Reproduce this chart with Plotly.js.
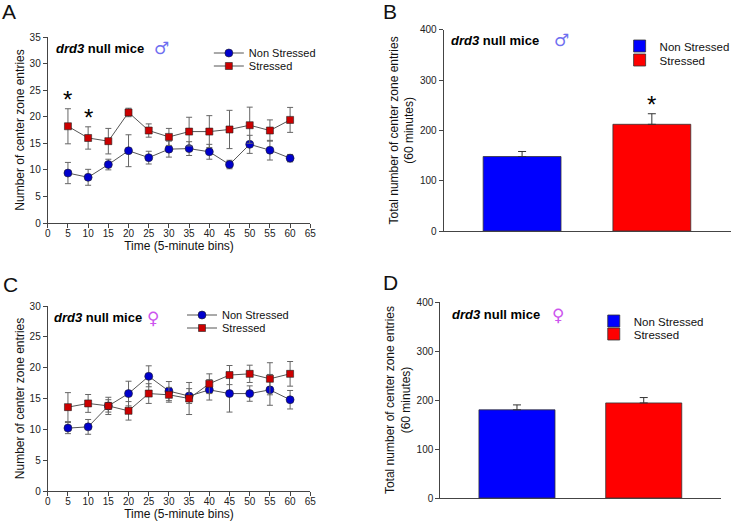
<!DOCTYPE html>
<html><head><meta charset="utf-8">
<script src="https://cdn.plot.ly/plotly-3.0.1.min.js"></script>
<style>html,body{margin:0;padding:0;background:#fff}#chart{width:735px;height:528px}</style>
</head><body><div id="chart"></div>
<script>
// ---- data ----
const timeBins = [5,10,15,20,25,30,35,40,45,50,55,60];
// Panel A (males)
const maleNonStressed    = [9.4, 8.6, 11.0, 13.6, 12.3, 13.9, 14.0, 13.4, 11.0, 14.8, 13.7, 12.2];
const maleNonStressedErr = [2.0, 1.5, 1.0, 3.0, 1.2, 1.5, 1.3, 1.4, 0.8, 1.7, 1.85, 0.7];
const maleStressed       = [18.2, 16.0, 15.4, 20.8, 17.4, 16.2, 17.2, 17.2, 17.6, 18.4, 17.4, 19.4];
const maleStressedErr    = [3.3, 2.1, 2.4, 0.8, 1.25, 1.6, 2.7, 3.0, 3.6, 3.4, 2.0, 2.35];
const maleSigBins = [5, 10];
// Panel C (females)
const femNonStressed     = [10.2, 10.4, 13.8, 15.8, 18.6, 16.2, 15.4, 16.4, 15.8, 15.8, 16.4, 14.8];
const femNonStressedErr  = [0.9, 1.2, 1.0, 2.0, 1.7, 1.55, 1.2, 1.65, 3.0, 1.25, 2.5, 1.5];
const femStressed        = [13.6, 14.2, 13.8, 13.0, 15.8, 15.6, 15.0, 17.4, 18.8, 19.0, 18.2, 19.0];
const femStressedErr     = [2.35, 1.45, 1.4, 1.5, 1.6, 1.2, 2.6, 1.6, 1.55, 1.4, 2.6, 2.0];
// Panels B and D (totals, 60 minutes)
const groups = ["Non Stressed", "Stressed"];
const maleTotals    = [148, 212];
const maleTotalsErr = [10, 21];
const femTotals     = [180, 194];
const femTotalsErr  = [10, 11];

// ---- layout helpers ----
const W = 735, H = 528;
const fx = p => p / W;
const fy = p => 1 - p / H;
const FONT = "Liberation Sans, Arial, sans-serif";
const axisCol = "#444";
const tickFont = {family: FONT, size: 10, color: "#222"};
const titleFont = {family: FONT, size: 12, color: "#111"};

const blue = "#0000cc", red = "#cc0000";
const errStyle = {type: "data", visible: true, color: "#666", thickness: 1, width: 3};

function lineTrace(y, err, name, color, symbol, xa, ya, leg) {
  return {
    x: timeBins, y: y, type: "scatter", mode: "lines+markers", name: name,
    xaxis: xa, yaxis: ya, legend: leg,
    line: {color: "#555", width: 1},
    marker: {color: color, size: symbol === "circle" ? 8 : 7, symbol: symbol, line: {color: "#222", width: 0.6}},
    error_y: Object.assign({array: err}, errStyle)
  };
}
function barTrace(i, vals, errs, color, xa, ya, leg) {
  return {
    x: [groups[i]], y: [vals[i]], type: "bar", name: groups[i], width: 0.6,
    xaxis: xa, yaxis: ya, legend: leg,
    marker: {color: color, line: {color: "#333", width: 0.8}},
    error_y: {type: "data", array: [errs[i]], symmetric: false, arrayminus: [0], color: "#333", thickness: 1, width: 4}
  };
}

const traces = [
  lineTrace(maleNonStressed, maleNonStressedErr, "Non Stressed", blue, "circle", "x", "y", "legend"),
  lineTrace(maleStressed, maleStressedErr, "Stressed", red, "square", "x", "y", "legend2"),
  barTrace(0, maleTotals, maleTotalsErr, "#0000ff", "x2", "y2", "legend3"),
  barTrace(1, maleTotals, maleTotalsErr, "#ff0000", "x2", "y2", "legend4"),
  lineTrace(femNonStressed, femNonStressedErr, "Non Stressed", blue, "circle", "x3", "y3", "legend5"),
  lineTrace(femStressed, femStressedErr, "Stressed", red, "square", "x3", "y3", "legend6"),
  barTrace(0, femTotals, femTotalsErr, "#0000ff", "x4", "y4", "legend7"),
  barTrace(1, femTotals, femTotalsErr, "#ff0000", "x4", "y4", "legend8")
];

function numAxis(domain, range, dtick, anchor, title, standoff, labelShift) {
  return {
    domain: domain, range: range, dtick: dtick, tick0: 0, anchor: anchor,
    showline: true, linecolor: axisCol, linewidth: 1, mirror: false,
    ticks: "outside", ticklen: 4, tickcolor: axisCol, tickwidth: 1,
    showgrid: false, zeroline: false, tickfont: tickFont, ticklabelstandoff: labelShift || 0,
    title: {text: title, font: titleFont, standoff: standoff}, automargin: false
  };
}
function catAxis(domain, anchor) {
  return {
    domain: domain, type: "category", range: [-0.605, 1.61], anchor: anchor,
    showline: true, linecolor: axisCol, linewidth: 1, ticks: "", showticklabels: false,
    showgrid: false, zeroline: false, automargin: false
  };
}

const legendBase = {bgcolor: "rgba(0,0,0,0)", xanchor: "left", yanchor: "middle", itemwidth: 30, tracegroupgap: 0};
const leg = (x, y, size) => Object.assign({x: fx(x), y: fy(y), font: {family: FONT, size: size, color: "#111"}}, legendBase);

const yTitleA = "Number of center zone entries";
const yTitleB = "Total number of center zone entries<br>(60 minutes)";
const xTitle = "Time (5-minute bins)";

const annotations = [];
function label(txt, x, y) {
  annotations.push({text: txt, xref: "paper", yref: "paper", x: fx(x), y: fy(y), xanchor: "left", yanchor: "middle",
    showarrow: false, font: {family: FONT, size: 21, color: "#111"}});
}
label("A", 0, 12); label("B", 383, 11); label("C", 1, 284); label("D", 383, 282);
function heading(x, y, sym, symColor, symX, symY) {
  annotations.push({text: "<b><i>drd3</i> null mice</b>", xref: "paper", yref: "paper", x: fx(x), y: fy(y),
    xanchor: "left", yanchor: "middle", showarrow: false, font: {family: FONT, size: 13, color: "#000"}});
  annotations.push({text: sym, xref: "paper", yref: "paper", x: fx(symX), y: fy(symY),
    xanchor: "left", yanchor: "middle", showarrow: false, font: {family: "DejaVu Sans", size: 17, color: symColor}});
}
heading(54, 48, "♂", "#6f6ff0", 153, 48);
heading(451, 40, "♂", "#6f6ff0", 555, 40);
heading(52, 317, "♀", "#cc55ee", 146, 318);
heading(452, 314, "♀", "#cc55ee", 553, 315);
// significance stars
maleSigBins.forEach(b => {
  const i = timeBins.indexOf(b);
  annotations.push({text: "*", x: b, y: maleStressed[i] + maleStressedErr[i], xref: "x", yref: "y",
    yanchor: "bottom", showarrow: false, yshift: -6, font: {family: FONT, size: 24, color: "#000"}});
});
annotations.push({text: "*", x: groups[1], y: maleTotals[1] + maleTotalsErr[1], xref: "x2", yref: "y2",
  yanchor: "bottom", showarrow: false, yshift: -6, font: {family: FONT, size: 24, color: "#000"}});

const layout = {
  width: W, height: H, margin: {l: 0, r: 0, t: 0, b: 0},
  paper_bgcolor: "#fff", plot_bgcolor: "#fff", showlegend: true,
  xaxis:  numAxis([fx(48), fx(312)], [0, 65], 5, "y", xTitle, 0, -3),
  yaxis:  numAxis([fy(223), fy(37)], [0, 35], 5, "x", yTitleA, 2),
  xaxis2: catAxis([fx(446), fx(735)], "y2"),
  yaxis2: numAxis([fy(231), fy(29.7)], [0, 400], 100, "x2", yTitleB, 3),
  xaxis3: numAxis([fx(48), fx(312)], [0, 65], 5, "y3", xTitle, 0, -3),
  yaxis3: numAxis([fy(491), fy(306)], [0, 30], 5, "x3", yTitleA, 2),
  xaxis4: catAxis([fx(442.7), fx(725)], "y4"),
  yaxis4: numAxis([fy(498), fy(302)], [0, 400], 100, "x4", yTitleB, 3),
  legend:  leg(210, 53, 11),
  legend2: leg(210, 66, 11),
  legend3: leg(623, 46, 11.5),
  legend4: leg(623, 60, 11.5),
  legend5: leg(183, 315, 11),
  legend6: leg(183, 328, 11),
  legend7: leg(597, 321, 11.5),
  legend8: leg(597, 334, 11.5),
  annotations: annotations
};

Plotly.newPlot("chart", traces, layout, {displayModeBar: false, staticPlot: true});
</script></body></html>
